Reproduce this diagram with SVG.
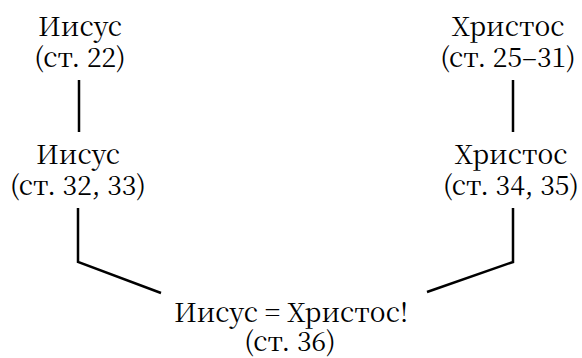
<svg xmlns="http://www.w3.org/2000/svg" width="582" height="358" viewBox="0 0 582 358">
<style>
text{font-family:'Noto Serif CJK SC','DejaVu Serif',serif;font-size:26.5px;fill:#000;text-anchor:middle}
.c{fill:none;stroke:#000;stroke-width:2.5;stroke-linejoin:miter}
</style>
<rect width="582" height="358" fill="#fff"/>
<g id="connectors">
<line class="c" x1="79" y1="80" x2="79" y2="132"/>
<line class="c" x1="513" y1="80" x2="513" y2="132"/>
<polyline class="c" points="78,208 78,262 161,293"/>
<polyline class="c" points="513,208 513,262 427,292"/>
</g>
<g id="n1"><text x="80" y="36">Иисус</text><text x="80" y="67">(ст. 22)</text></g>
<g id="n2"><text x="508" y="36">Христос</text><text x="508" y="67">(ст. 25–31)</text></g>
<g id="n3"><text x="78" y="164">Иисус</text><text x="78" y="195">(ст. 32, 33)</text></g>
<g id="n4"><text x="511" y="164">Христос</text><text x="511" y="195">(ст. 34, 35)</text></g>
<g id="n5"><text x="291" y="322">Иисус = Христос!</text><text x="290" y="351">(ст. 36)</text></g>
</svg>
